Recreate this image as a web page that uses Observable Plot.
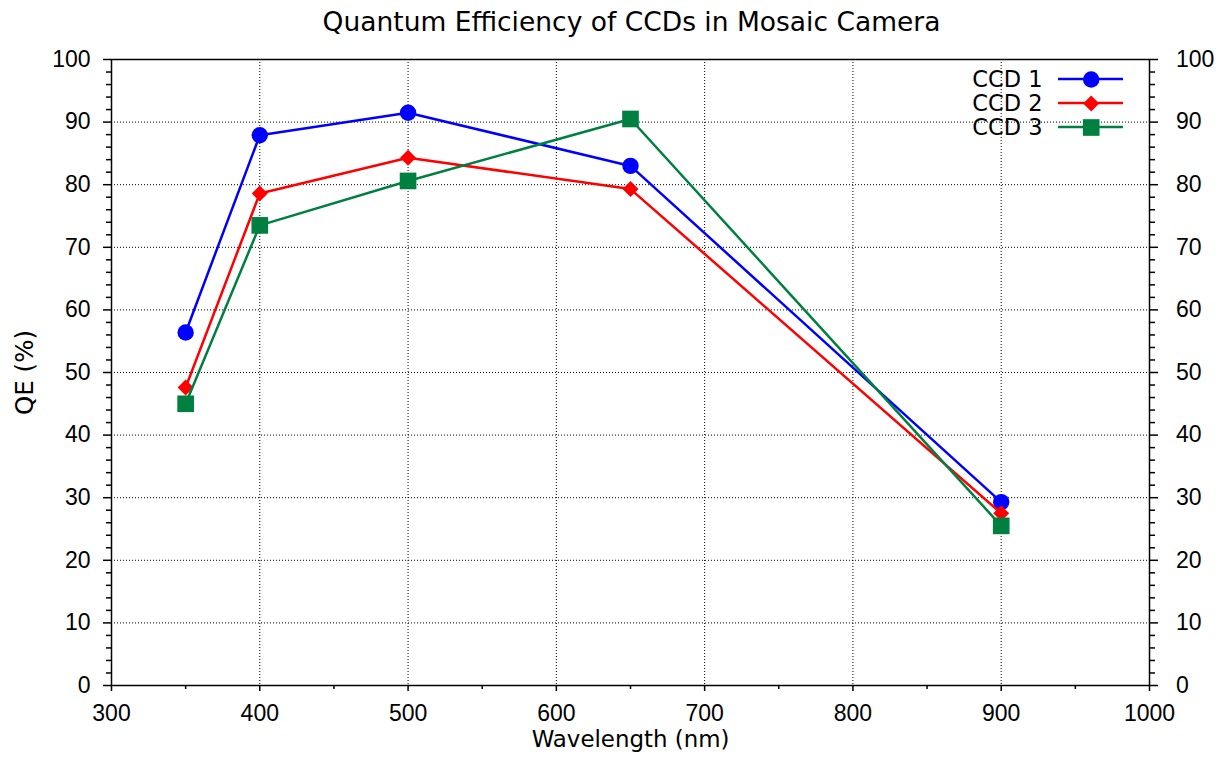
<!DOCTYPE html>
<html><head><meta charset="utf-8">
<script src="https://cdn.jsdelivr.net/npm/d3@7"></script>
<script src="https://cdn.jsdelivr.net/npm/@observablehq/plot@0.6"></script>
<style>body{margin:0;background:#fff} #chart svg{display:block}</style>
</head><body><div id="chart"></div>
<script>
// ---- data ----
const wavelength = [350, 400, 500, 650, 900];
const ccd1 = [56.4, 87.9, 91.5, 83.0, 29.3];
const ccd2 = [47.6, 78.6, 84.3, 79.3, 27.5];
const ccd3 = [45.0, 73.5, 80.6, 90.5, 25.5];
const seriesNames = ["CCD 1", "CCD 2", "CCD 3"];
const seriesColors = ["#0000ff", "#ff0000", "#008040"];
const seriesSymbols = ["circle", "diamond2", "square"];
const seriesR = [8.2, 7.2, 9.4];
const xTicks = [300, 400, 500, 600, 700, 800, 900, 1000];
const xMinor = [350, 450, 550, 650, 750, 850, 950];
const yTicks = [0, 10, 20, 30, 40, 50, 60, 70, 80, 90, 100];
const yMinor = d3.range(0, 101, 2).filter(v => v % 10 !== 0);
const titleText = "Quantum Efficiency of CCDs in Mosaic Camera";
const xLabel = "Wavelength (nm)";
const yLabel = "QE (%)";

const seriesValues = [ccd1, ccd2, ccd3];
const rows = seriesNames.flatMap((name, i) =>
  wavelength.map((w, j) => ({series: name, wl: w, qe: seriesValues[i][j]})));

const W = 1224, H = 757;
const mL = 111, mR = 75, mT = 59, mB = 72;
const wordFont = "DejaVu Sans";
const numFont = "Liberation Sans";

const seriesMarks = seriesNames.flatMap((name, i) => {
  const d = rows.filter(r => r.series === name);
  return [
    Plot.line(d, {x: "wl", y: "qe", stroke: seriesColors[i], strokeWidth: 2.5}),
    Plot.dot(d, {x: "wl", y: "qe", symbol: () => seriesSymbols[i], r: seriesR[i], fill: seriesColors[i], stroke: "none"})
  ];
});

// legend lines via a render-function mark
function legendLines(index, scales, values, dims) {
  const g = d3.create("svg:g");
  const xr = dims.width - dims.marginRight;
  seriesNames.forEach((name, i) => {
    const y = dims.marginTop + 20 + 24 * i;
    g.append("line").attr("x1", xr - 91).attr("x2", xr - 26)
      .attr("y1", y).attr("y2", y)
      .attr("stroke", seriesColors[i]).attr("stroke-width", 2.5);
  });
  return g.node();
}

const legendMarks = seriesNames.flatMap((name, i) => [
  Plot.text([name], {text: d => d, frameAnchor: "top-right", textAnchor: "end", lineAnchor: "middle",
    dx: -107, dy: 20 + 24 * i, fontSize: 22.5, fontFamily: wordFont, fill: "black"}),
  Plot.dot([name], {frameAnchor: "top-right", dx: -58.3, dy: 20 + 24 * i, symbol: () => seriesSymbols[i],
    r: seriesR[i], fill: seriesColors[i], stroke: "none"})
]);

const gridStyle = {stroke: "black", strokeOpacity: 1, strokeWidth: 1, strokeDasharray: "1,2"};
const fmt = d3.format("d");

const chart = Plot.plot({
  width: W, height: H,
  marginLeft: mL, marginRight: mR, marginTop: mT, marginBottom: mB,
  style: {fontFamily: numFont, fontSize: "23px", color: "black", background: "white"},
  x: {domain: [300, 1000]},
  y: {domain: [0, 100]},
  marks: [
    Plot.gridX(xTicks.filter(v => v > 300 && v < 1000), gridStyle),
    Plot.gridY(yTicks.filter(v => v > 0 && v < 100), gridStyle),
    ...seriesMarks,
    Plot.frame({stroke: "black", strokeWidth: 1.5}),
    Plot.axisX(xTicks, {anchor: "bottom", tickSize: 6, tickPadding: 12.7, fontSize: 23, tickFormat: fmt, strokeWidth: 1.5, label: null}),
    Plot.axisX(xMinor, {anchor: "bottom", tickSize: 4, tickFormat: () => "", strokeWidth: 1.5, label: null}),
    Plot.axisY(yTicks, {anchor: "left", tickSize: 8, tickPadding: 13, fontSize: 23, tickFormat: fmt, strokeWidth: 1.5, label: null}),
    Plot.axisY(yMinor, {anchor: "left", tickSize: 5, tickFormat: () => "", strokeWidth: 1.5, label: null}),
    Plot.axisY(yTicks, {anchor: "right", tickSize: 8, tickPadding: 18.5, fontSize: 23, tickFormat: fmt, strokeWidth: 1.5, label: null}),
    Plot.axisY(yMinor, {anchor: "right", tickSize: 5, tickFormat: () => "", strokeWidth: 1.5, label: null}),
    Plot.text([titleText], {text: d => d, frameAnchor: "top", lineAnchor: "bottom", dx: 1, dy: -29, fontSize: 26.5, fontFamily: wordFont, fill: "black"}),
    Plot.text([xLabel], {text: d => d, frameAnchor: "bottom", lineAnchor: "bottom", dx: 0, dy: 61.7, fontSize: 22.9, fontFamily: wordFont, fill: "black"}),
    Plot.text([yLabel], {text: d => d, frameAnchor: "left", textAnchor: "middle", lineAnchor: "bottom", rotate: -90, dx: -78.3, fontSize: 24.5, fontFamily: wordFont, fill: "black"}),
    legendLines,
    ...legendMarks
  ]
});
document.getElementById("chart").appendChild(chart);
</script>
</body></html>
